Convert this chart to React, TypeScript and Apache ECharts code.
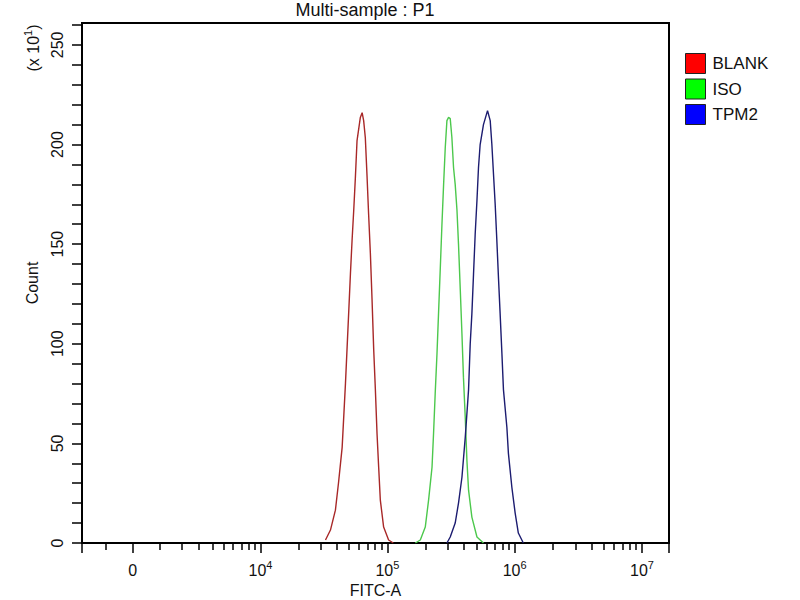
import React, { useEffect, useRef } from 'react';
import * as echarts from 'echarts';

// FITC-A positions are given as log10(FITC-A); counts are in units of 10^1
const blankLog = [4.514, 4.553, 4.592, 4.616, 4.645, 4.671, 4.696, 4.71, 4.723, 4.736, 4.749, 4.762, 4.788, 4.802, 4.814, 4.827, 4.841, 4.853, 4.867, 4.88, 4.893, 4.906, 4.919, 4.932, 4.945, 4.971, 5.01, 5.047];
const blankCount = [1.5, 6.5, 16.5, 30, 48, 80, 115, 135, 152, 167, 183.5, 202, 213.6, 216, 212, 203.5, 183.5, 165, 145, 122, 97, 77, 55, 38, 21.5, 8, 1.5, 0];

const isoLog = [5.22, 5.259, 5.298, 5.324, 5.351, 5.363, 5.376, 5.39, 5.402, 5.416, 5.429, 5.442, 5.455, 5.468, 5.481, 5.494, 5.507, 5.52, 5.533, 5.547, 5.559, 5.573, 5.586, 5.598, 5.612, 5.625, 5.638, 5.664, 5.704, 5.755];
const isoCount = [0, 1.5, 8, 21.5, 38, 55, 75, 95, 115, 138, 160, 180, 198.5, 212, 213.6, 213, 203.5, 188.5, 180, 167, 150, 127, 105, 83, 63, 41.5, 26.5, 13, 3, 0];

const tpmLog = [5.468, 5.494, 5.533, 5.559, 5.586, 5.612, 5.638, 5.651, 5.664, 5.677, 5.69, 5.704, 5.716, 5.729, 5.755, 5.787, 5.808, 5.821, 5.834, 5.847, 5.86, 5.873, 5.886, 5.9, 5.912, 5.939, 5.951, 5.978, 6.004, 6.029, 6.068];
const tpmCount = [0, 3, 10, 20, 33, 53, 77, 100, 115, 135, 155, 172, 188.5, 200, 210, 217, 212, 200, 185, 170, 152, 133, 115, 95, 77, 58, 45, 28, 15, 5, 0];

const seriesNames = ['BLANK', 'ISO', 'TPM2'];
const lineColors = ['#a82828', '#4cc84c', '#1c1c70'];
const legendColors = ['#ff0000', '#00ff00', '#0000ff'];

const xMajorValues = [0, 1e4, 1e5, 1e6, 1e7];
const xMajorExponents = ['', '4', '5', '6', '7'];
const xMinorMantissas = [2, 3, 4, 5, 6, 7, 8, 9];
const xMinorDecades = [1e3, 1e4, 1e5, 1e6];
const xNegativeTicks = [-1000];
const xMin = -2100;
const xMax = 1.63e7;

const yLabelValues = [0, 50, 100, 150, 200, 250];
const yTickStep = 10;
const yMax = 261;

const FONT = "'Liberation Sans', Arial, sans-serif";

// biexponential-like display transform: 0 -> 0, 10^4 -> 1, 10^5 -> 2, ...
const toAxis = (v: number) => Math.log10(v / 2 + Math.sqrt((v * v) / 4 + 1e6)) - 3;

const App: React.FC = () => {
  const chartRef = useRef<HTMLDivElement | null>(null);

  useEffect(() => {
    if (!chartRef.current) return;
    const chart = echarts.init(chartRef.current, null, { renderer: 'svg' });

    const majorU = xMajorValues.map(toAxis);
    const minorU: number[] = [];
    xNegativeTicks.forEach((v) => minorU.push(toAxis(v)));
    xMinorDecades.forEach((d) => xMinorMantissas.forEach((m) => minorU.push(toAxis(m * d))));
    minorU.push(toAxis(1e3));
    const uMin = toAxis(xMin);
    const uMax = toAxis(xMax);

    const yTicks: number[] = [];
    for (let t = 0; t <= yMax; t += yTickStep) yTicks.push(t);

    const logs = [blankLog, isoLog, tpmLog];
    const counts = [blankCount, isoCount, tpmCount];

    const option = {
      animation: false,
      title: {
        text: 'Multi-sample : P1',
        left: 360,
        textAlign: 'center',
        top: -4,
        textStyle: { fontFamily: FONT, fontSize: 18, fontWeight: 'normal', color: '#111' },
      },
      legend: {
        orient: 'vertical',
        left: 685,
        top: 53,
        padding: 0,
        itemWidth: 20,
        itemHeight: 20,
        itemGap: 4.5,
        icon: 'rect',
        data: seriesNames.map((name, i) => ({
          name,
          itemStyle: { color: legendColors[i], borderColor: '#222', borderWidth: 1 },
        })),
        textStyle: { fontFamily: FONT, fontSize: 17, color: '#111', padding: [0, 0, 0, 2] },
      },
      grid: {
        left: 82,
        right: 131,
        top: 23,
        bottom: 57,
        outerBoundsMode: 'none',
        show: true,
        borderColor: '#000',
        borderWidth: 2,
        backgroundColor: '#fff',
      },
      xAxis: [
        {
          type: 'value',
          min: uMin,
          max: uMax,
          position: 'bottom',
          axisLine: { show: true, onZero: false, lineStyle: { color: '#000', width: 2 } },
          axisTick: { show: true, length: 10, customValues: [uMin, ...majorU, uMax], lineStyle: { color: '#000', width: 1.5 } },
          axisLabel: {
            show: true,
            customValues: majorU,
            margin: 16,
            formatter: (val: number) => {
              let idx = 0;
              majorU.forEach((u, i) => {
                if (Math.abs(u - val) < Math.abs(majorU[idx] - val)) idx = i;
              });
              return idx === 0 ? '{b|0}' : '{b|10}{s|' + xMajorExponents[idx] + '}';
            },
            rich: {
              b: { fontFamily: FONT, fontSize: 16, color: '#111', lineHeight: 22 },
              s: { fontFamily: FONT, fontSize: 11, color: '#111', verticalAlign: 'top' },
            },
          },
          splitLine: { show: false },
          name: 'FITC-A',
          nameLocation: 'middle',
          nameGap: 39,
          nameTextStyle: { fontFamily: FONT, fontSize: 16, color: '#111' },
        },
        {
          type: 'value',
          min: uMin,
          max: uMax,
          position: 'bottom',
          axisLine: { show: false, onZero: false },
          axisTick: { show: true, length: 7, customValues: minorU, lineStyle: { color: '#000', width: 1.5 } },
          axisLabel: { show: false },
          splitLine: { show: false },
        },
      ],
      yAxis: {
        type: 'value',
        min: 0,
        max: yMax,
        axisLine: { show: true, onZero: false, lineStyle: { color: '#000', width: 2 } },
        axisTick: { show: true, length: 10, customValues: yTicks, lineStyle: { color: '#000', width: 1.5 } },
        axisLabel: {
          customValues: yLabelValues,
          rotate: 90,
          margin: 17,
          fontFamily: FONT,
          fontSize: 16,
          color: '#111',
        },
        splitLine: { show: false },
        name: 'Count',
        nameLocation: 'middle',
        nameRotate: 90,
        nameGap: 42,
        nameTextStyle: { fontFamily: FONT, fontSize: 16, color: '#111' },
      },
      graphic: [
        {
          type: 'text',
          x: 33,
          y: 48,
          rotation: Math.PI / 2,
          style: {
            text: '{b|(x 10}{s|1}{b|)}',
            align: 'center',
            verticalAlign: 'middle',
            rich: {
              b: { fontFamily: FONT, fontSize: 16, fill: '#111', lineHeight: 22 },
              s: { fontFamily: FONT, fontSize: 11, fill: '#111', verticalAlign: 'top' },
            },
          },
        },
      ],
      series: seriesNames.map((name, i) => ({
        name,
        type: 'line',
        xAxisIndex: 0,
        symbol: 'none',
        smooth: false,
        lineStyle: { color: lineColors[i], width: 1.4 },
        itemStyle: { color: lineColors[i] },
        data: logs[i].map((l, j) => [toAxis(Math.pow(10, l)), counts[i][j]]),
      })),
    };

    chart.setOption(option);
    return () => {
      chart.dispose();
    };
  }, []);

  return <div ref={chartRef} style={{ width: 800, height: 600, position: 'absolute', left: 0, top: 0 }} />;
};

export default App;
